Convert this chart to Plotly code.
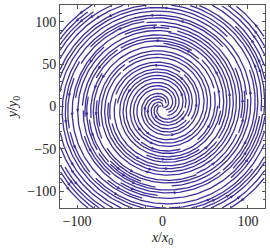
import numpy as np
import plotly.figure_factory as ff
import plotly.graph_objects as go

# Field description (spiral vortex): grid extent and flow parameters
x_range = [-120, 120]
y_range = [-120, 120]
n_grid = 121
swirl_rate = 1.0       # azimuthal angular velocity
radial_drift = 6.0     # constant outward radial speed
x_tick_vals = [-100, 0, 100]
x_tick_text = ["\u2212100", "0", "100"]
y_tick_vals = [-100, -50, 0, 50, 100]
y_tick_text = ["\u2212100", "\u221250", "0", "50", "100"]
line_color = "#3a2f9c"

x = np.linspace(x_range[0], x_range[1], n_grid)
y = np.linspace(y_range[0], y_range[1], n_grid)
X, Y = np.meshgrid(x, y)
R = np.hypot(X, Y) + 1e-6
U = -swirl_rate * Y + radial_drift * X / R
V = swirl_rate * X + radial_drift * Y / R

fig = ff.create_streamline(x, y, U, V, density=2.5, arrow_scale=3.0,
                           line=dict(color=line_color, width=1.3))
fig.update_traces(hoverinfo="skip")

font = dict(family="Liberation Serif, DejaVu Serif, serif", size=14, color="#222")
fig.update_layout(
    width=270, height=250,
    margin=dict(l=60, r=5, t=5, b=42),
    plot_bgcolor="white", paper_bgcolor="white",
    showlegend=False, font=font,
)
axis_common = dict(
    showgrid=False, zeroline=False, showline=True, linecolor="#555", linewidth=1,
    mirror="ticks", ticks="inside", ticklen=3.5, tickcolor="#555", tickfont=font,
    automargin=False,
)
fig.update_xaxes(range=x_range, tickvals=x_tick_vals, ticktext=x_tick_text,
                 minor=dict(dtick=20, tick0=0, ticks="inside", ticklen=2, tickcolor="#555"),
                 title=dict(text="<i>x</i>/<i>x</i><sub>0</sub>", font=font, standoff=4),
                 **axis_common)
fig.update_yaxes(range=y_range, tickvals=y_tick_vals, ticktext=y_tick_text,
                 minor=dict(dtick=10, tick0=0, ticks="inside", ticklen=2, tickcolor="#555"),
                 title=dict(text="<i>y</i>/<i>y</i><sub>0</sub>", font=font, standoff=6),
                 **axis_common)
fig.write_html("out.html", config={"displayModeBar": False, "staticPlot": True},
               post_script="document.body.style.margin='0';document.body.style.overflow='hidden';")
